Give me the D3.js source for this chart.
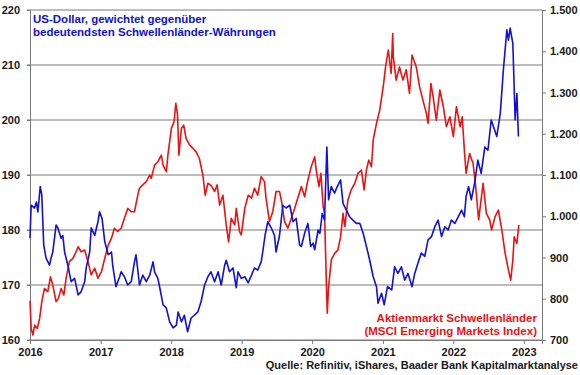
<!DOCTYPE html>
<html lang="de">

<head>
    <meta charset="UTF-8">
    <title>US-Dollar vs. Aktienmarkt Schwellenländer</title>

    <script src="https://cdn.jsdelivr.net/npm/d3@7"></script>

    <style>
        body {
            margin: 0;
            background: #ffffff;
        }

        text {
            font-family: "Liberation Sans", Arial, sans-serif;
            font-weight: bold;
        }

        .tick_label {
            font-size: 11px;
            fill: #1a1a1a;
        }
    </style>
</head>

<body>
    <svg width="580" height="375"></svg>

    <script>
        // US-Dollar gewichtet ggü. Schwellenländer-Währungen (linke Achse)
        const usdDates = [
            "2016-01-01", "2016-01-07", "2016-01-25", "2016-02-03", "2016-02-11", "2016-02-23", "2016-03-02", "2016-03-12",
            "2016-03-24", "2016-04-11", "2016-04-19", "2016-04-28", "2016-05-15", "2016-05-24", "2016-06-10", "2016-06-19",
            "2016-06-28", "2016-07-15", "2016-08-01", "2016-08-19", "2016-09-06", "2016-09-22", "2016-10-10", "2016-10-18",
            "2016-11-05", "2016-11-13", "2016-12-01", "2016-12-18", "2016-12-26", "2017-01-08", "2017-01-22", "2017-02-09",
            "2017-02-26", "2017-03-04", "2017-03-21", "2017-04-09", "2017-04-17", "2017-05-04", "2017-05-21", "2017-06-08",
            "2017-06-25", "2017-07-03", "2017-07-21", "2017-08-07", "2017-08-25", "2017-09-12", "2017-09-29", "2017-10-07",
            "2017-10-24", "2017-11-03", "2017-11-20", "2017-12-07", "2017-12-24", "2018-01-11", "2018-01-28", "2018-02-06",
            "2018-02-23", "2018-03-10", "2018-03-27", "2018-04-14", "2018-05-01", "2018-05-19", "2018-06-05", "2018-06-23",
            "2018-07-10", "2018-07-26", "2018-08-14", "2018-09-01", "2018-09-17", "2018-10-05", "2018-10-13", "2018-10-30",
            "2018-11-17", "2018-12-04", "2018-12-13", "2018-12-30", "2019-01-17", "2019-02-04", "2019-02-21", "2019-03-08",
            "2019-03-25", "2019-04-12", "2019-04-20", "2019-05-02", "2019-05-16", "2019-06-03", "2019-06-20", "2019-06-28",
            "2019-07-16", "2019-08-02", "2019-08-19", "2019-09-07", "2019-09-24", "2019-10-10", "2019-10-28", "2019-11-06",
            "2019-11-23", "2019-12-10", "2019-12-24", "2020-01-06", "2020-01-14", "2020-02-01", "2020-02-10", "2020-02-22",
            "2020-03-05", "2020-03-17", "2020-03-26", "2020-04-09", "2020-04-26", "2020-05-10", "2020-05-27", "2020-06-09",
            "2020-06-26", "2020-07-13", "2020-07-30", "2020-08-17", "2020-09-04", "2020-09-21", "2020-10-08", "2020-10-25",
            "2020-11-12", "2020-11-29", "2020-12-07", "2020-12-25", "2021-01-08", "2021-01-25", "2021-02-16", "2021-03-03",
            "2021-03-20", "2021-04-07", "2021-04-24", "2021-05-11", "2021-06-01", "2021-06-15", "2021-07-02", "2021-07-19",
            "2021-08-06", "2021-08-23", "2021-09-10", "2021-09-27", "2021-10-14", "2021-11-01", "2021-11-18", "2021-12-05",
            "2021-12-22", "2022-01-09", "2022-01-26", "2022-02-13", "2022-02-27", "2022-03-08", "2022-03-21", "2022-04-04",
            "2022-04-21", "2022-05-08", "2022-05-25", "2022-06-13", "2022-06-29", "2022-07-16", "2022-08-14", "2022-09-01",
            "2022-09-17", "2022-10-05", "2022-10-13", "2022-10-22", "2022-11-05", "2022-11-17", "2022-11-26", "2022-12-04"
        ];
        const usdValues = [
            178.5, 184.5, 184.0, 185.1, 183.3, 187.9, 186.4, 177.3,
            174.9, 173.6, 174.9, 176.0, 180.9, 180.4, 178.5, 179.0,
            176.0, 173.6, 170.6, 171.2, 168.2, 168.8, 170.6, 173.1,
            176.0, 180.4, 179.0, 181.5, 183.3, 182.1, 177.9, 175.5,
            176.0, 173.6, 169.7, 171.5, 172.4, 171.5, 170.0, 170.6,
            174.2, 175.5, 170.0, 171.8, 170.6, 171.8, 174.2, 172.4,
            171.2, 169.5, 166.4, 165.8, 163.3, 162.2, 162.7, 165.1,
            163.3, 164.5, 161.5, 164.0, 164.5, 165.1, 167.0, 170.0,
            171.5, 172.4, 170.6, 172.4, 170.0, 173.6, 174.5, 172.4,
            173.1, 169.5, 172.4, 171.2, 171.5, 170.4, 171.8, 173.1,
            172.7, 174.2, 176.0, 179.0, 181.5, 180.4, 179.0, 176.0,
            179.0, 184.5, 184.0, 184.5, 181.5, 182.1, 177.3, 177.0,
            179.4, 181.2, 177.0, 177.6, 176.4, 180.0, 179.4, 183.0,
            181.8, 195.1, 185.5, 187.9, 186.7, 187.9, 189.1, 184.8,
            183.6, 182.4, 181.8, 181.2, 181.2, 179.4, 177.0, 174.5,
            171.5, 169.7, 166.7, 168.5, 166.4, 169.7, 169.1, 173.3,
            172.1, 173.3, 170.9, 172.1, 169.7, 172.1, 174.0, 175.8,
            175.2, 178.2, 178.8, 180.6, 181.8, 178.8, 180.6, 180.0,
            181.8, 181.2, 182.4, 183.6, 182.4, 186.1, 187.9, 185.5,
            188.5, 192.7, 190.3, 195.1, 194.5, 200.0, 197.0, 201.2,
            209.1, 216.4, 214.5, 216.7, 213.9, 200.0, 204.8, 197.0
        ];

        // Aktienmarkt Schwellenländer, MSCI Emerging Markets Index (rechte Achse)
        const emDates = [
            "2016-01-01", "2016-01-07", "2016-01-16", "2016-01-25", "2016-02-08", "2016-02-20", "2016-03-02", "2016-03-16",
            "2016-04-02", "2016-04-16", "2016-04-28", "2016-05-15", "2016-05-27", "2016-06-10", "2016-06-24", "2016-07-06",
            "2016-07-23", "2016-08-10", "2016-08-27", "2016-09-06", "2016-09-22", "2016-10-10", "2016-10-27", "2016-11-13",
            "2016-12-01", "2016-12-18", "2017-01-05", "2017-01-22", "2017-02-09", "2017-02-26", "2017-03-13", "2017-03-30",
            "2017-04-17", "2017-05-04", "2017-05-21", "2017-06-08", "2017-06-25", "2017-07-12", "2017-07-21", "2017-08-07",
            "2017-08-25", "2017-09-12", "2017-09-20", "2017-10-07", "2017-10-24", "2017-11-11", "2017-11-20", "2017-12-07",
            "2017-12-15", "2018-01-02", "2018-01-16", "2018-01-25", "2018-02-03", "2018-02-10", "2018-02-23", "2018-03-07",
            "2018-03-19", "2018-04-06", "2018-04-23", "2018-05-10", "2018-05-27", "2018-06-14", "2018-06-26", "2018-07-10",
            "2018-07-26", "2018-08-14", "2018-08-27", "2018-09-09", "2018-09-26", "2018-10-13", "2018-10-25", "2018-11-08",
            "2018-11-26", "2018-12-04", "2018-12-21", "2018-12-30", "2019-01-17", "2019-02-04", "2019-02-21", "2019-03-08",
            "2019-03-25", "2019-04-12", "2019-04-29", "2019-05-07", "2019-05-25", "2019-06-11", "2019-06-28", "2019-07-16",
            "2019-07-27", "2019-08-11", "2019-08-28", "2019-09-15", "2019-10-02", "2019-10-19", "2019-11-06", "2019-11-23",
            "2019-12-10", "2019-12-27", "2020-01-14", "2020-01-22", "2020-02-05", "2020-02-15", "2020-02-27", "2020-03-05",
            "2020-03-16", "2020-03-19", "2020-03-26", "2020-04-09", "2020-04-26", "2020-05-13", "2020-05-27", "2020-06-09",
            "2020-06-18", "2020-07-04", "2020-07-21", "2020-08-09", "2020-08-25", "2020-09-12", "2020-09-26", "2020-10-08",
            "2020-10-20", "2020-11-03", "2020-11-12", "2020-11-29", "2020-12-16", "2021-01-03", "2021-01-15", "2021-01-29",
            "2021-02-13", "2021-02-21", "2021-02-24", "2021-03-11", "2021-03-28", "2021-04-15", "2021-05-02", "2021-05-19",
            "2021-06-01", "2021-06-23", "2021-07-10", "2021-07-27", "2021-08-14", "2021-08-23", "2021-09-07", "2021-09-18",
            "2021-10-05", "2021-10-23", "2021-11-10", "2021-11-26", "2021-12-14", "2022-01-01", "2022-01-17", "2022-02-05",
            "2022-02-16", "2022-02-27", "2022-03-08", "2022-03-26", "2022-04-13", "2022-04-25", "2022-05-12", "2022-06-04",
            "2022-06-21", "2022-07-08", "2022-07-18", "2022-08-05", "2022-08-22", "2022-09-09", "2022-09-26", "2022-10-13",
            "2022-10-25", "2022-11-05", "2022-11-12", "2022-11-26", "2022-12-06"
        ];
        const emValues = [
            795, 728, 712, 736, 728, 753, 793, 825,
            817, 853, 833, 793, 801, 825, 809, 850,
            890, 898, 914, 926, 914, 918, 890, 858,
            874, 850, 866, 898, 930, 947, 971, 963,
            971, 995, 1019, 1011, 1011, 1051, 1068, 1076,
            1084, 1100, 1092, 1124, 1132, 1148, 1124, 1108,
            1148, 1213, 1229, 1274, 1245, 1148, 1213, 1221,
            1189, 1173, 1165, 1156, 1140, 1100, 1051, 1080,
            1075, 1060, 1076, 1027, 1051, 979, 938, 995,
            979, 1019, 963, 955, 1019, 1051, 1044, 1068,
            1051, 1096, 1084, 1044, 987, 1011, 1060, 1060,
            1035, 987, 971, 995, 1019, 1045, 1072, 1047,
            1088, 1120, 1144, 1112, 1072, 1104, 1023, 1007,
            813, 765, 829, 894, 910, 918, 950, 1007,
            975, 1039, 1064, 1080, 1104, 1112, 1064, 1112,
            1136, 1120, 1185, 1225, 1258, 1314, 1362, 1403,
            1346, 1443, 1387, 1330, 1362, 1330, 1355, 1298,
            1391, 1362, 1314, 1282, 1250, 1225, 1322, 1290,
            1233, 1306, 1266, 1217, 1241, 1193, 1266, 1217,
            1241, 1160, 1104, 1152, 1128, 1080, 991, 1080,
            1007, 991, 967, 999, 1015, 967, 910, 870,
            845, 894, 950, 934, 979
        ];

        const yearLabels = ["2016", "2017", "2018", "2019", "2020", "2021", "2022", "2023"];
        const leftTicks = [160, 170, 180, 190, 200, 210, 220];
        const rightTicks = [700, 800, 900, 1000, 1100, 1200, 1300, 1400, 1500];

        const blue = "#1010d8";
        const red = "#ee1111";
        const grid = "#7a7a7a";

        const svg = d3.select("svg");
        const mLeft = 30, mRight = 542, mTop = 10, mBottom = 340;

        const parse = d3.timeParse("%Y-%m-%d");
        const de = d3.formatLocale({ decimal: ",", thousands: ".", grouping: [3], currency: ["", " €"] });
        const fmtRight = de.format(",");

        // scales
        const x = d3.scaleTime()
            .domain([parse("2016-01-01"), parse("2023-04-05")])
            .range([mLeft, mRight]);
        const yLeft = d3.scaleLinear().domain([160, 220]).range([mBottom, mTop]);
        const yRight = d3.scaleLinear().domain([700, 1500]).range([mBottom, mTop]);

        // gridlines at left-axis ticks
        svg.append("g")
            .selectAll("line")
            .data(leftTicks)
            .enter()
            .append("line")
            .attr("x1", mLeft - 3)
            .attr("x2", mRight)
            .attr("y1", d => yLeft(d))
            .attr("y2", d => yLeft(d))
            .attr("stroke", grid)
            .attr("stroke-width", 1);

        // left axis
        const axLeft = svg.append("g")
            .attr("transform", `translate(${mLeft},0)`)
            .call(d3.axisLeft(yLeft).tickValues(leftTicks).tickSize(3).tickPadding(8));
        // right axis
        const axRight = svg.append("g")
            .attr("transform", `translate(${mRight},0)`)
            .call(d3.axisRight(yRight).tickValues(rightTicks).tickSize(4).tickPadding(6).tickFormat(fmtRight));
        // bottom axis
        const axBottom = svg.append("g")
            .attr("transform", `translate(0,${mBottom})`)
            .call(d3.axisBottom(x)
                .tickValues(yearLabels.map(y => parse(y + "-01-01")))
                .tickFormat(d3.timeFormat("%Y"))
                .tickSize(4).tickPadding(4));

        [axLeft, axRight, axBottom].forEach(ax => {
            ax.attr("font-size", null).attr("font-family", null);
            ax.select(".domain").attr("stroke", grid).attr("stroke-width", 1);
            ax.selectAll(".tick line").attr("stroke", grid);
            ax.selectAll(".tick text").attr("class", "tick_label").attr("fill", null);
        });
        axLeft.selectAll(".tick text").attr("x", -10);
        axRight.selectAll(".tick text").attr("x", 8);

        // lines
        const usdLine = d3.line()
            .x((d, i) => x(parse(usdDates[i])))
            .y(d => yLeft(d));
        const emLine = d3.line()
            .x((d, i) => x(parse(emDates[i])))
            .y(d => yRight(d));

        svg.append("path")
            .attr("d", emLine(emValues))
            .attr("fill", "none")
            .attr("stroke", red)
            .attr("stroke-width", 1.6)
            .attr("stroke-linejoin", "round");

        svg.append("path")
            .attr("d", usdLine(usdValues))
            .attr("fill", "none")
            .attr("stroke", blue)
            .attr("stroke-width", 1.6)
            .attr("stroke-linejoin", "round");

        // labels
        const blueLabel = svg.append("text")
            .attr("x", 33)
            .attr("y", 23)
            .attr("fill", blue)
            .attr("font-size", "11.5px");
        blueLabel.append("tspan").attr("x", 33).text("US-Dollar, gewichtet gegenüber");
        blueLabel.append("tspan").attr("x", 33).attr("dy", 12.5).text("bedeutendsten Schwellenländer-Währungen");

        const redLabel = svg.append("text")
            .attr("x", 537)
            .attr("y", 322)
            .attr("fill", red)
            .attr("font-size", "11.5px")
            .attr("text-anchor", "end");
        redLabel.append("tspan").attr("x", 537).text("Aktienmarkt Schwellenländer");
        redLabel.append("tspan").attr("x", 537).attr("dy", 12.5).text("(MSCI Emerging Markets Index)");

        svg.append("text")
            .attr("x", 578)
            .attr("y", 369)
            .attr("text-anchor", "end")
            .attr("font-size", "11px")
            .attr("fill", "#1a1a1a")
            .text("Quelle: Refinitiv, iShares, Baader Bank Kapitalmarktanalyse");
    </script>
</body>

</html>
